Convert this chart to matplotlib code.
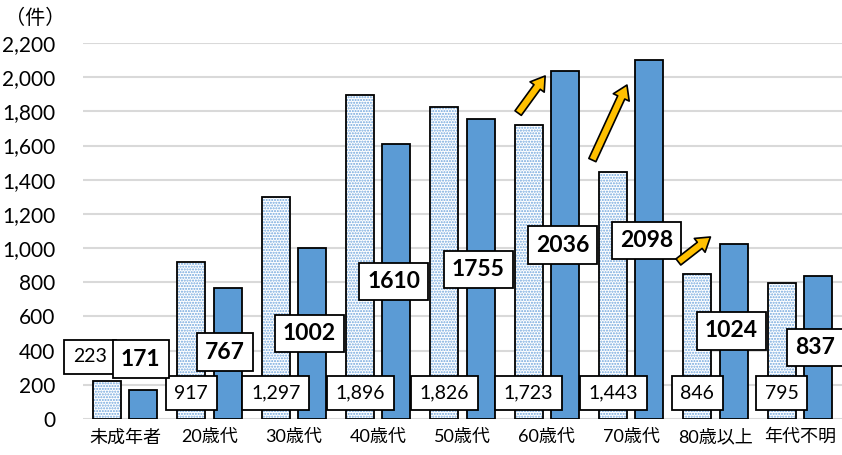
import matplotlib
matplotlib.use("Agg")
import matplotlib.pyplot as plt
import numpy as np

plt.rcParams["font.family"] = ["Lato", "Noto Sans CJK JP", "DejaVu Sans"]

categories = ["未成年者", "20歳代", "30歳代", "40歳代", "50歳代", "60歳代", "70歳代", "80歳以上", "年代不明"]
prev_counts = [223, 917, 1297, 1896, 1826, 1723, 1443, 846, 795]
curr_counts = [171, 767, 1002, 1610, 1755, 2036, 2098, 1024, 837]

# where the value boxes sit (y in data units)
prev_label_y = [363, 152, 152, 152, 152, 152, 152, 152, 152]
curr_label_y = [351, 392, 503, 807, 872, 1018, 1047, 515, 421]

fig = plt.figure(figsize=(8.42, 4.55), dpi=100)
ax = fig.add_axes([83 / 842, 36 / 455, 759 / 842, 376 / 455])

x = np.arange(len(categories))
w = 0.33
off = 0.215

# dotted bars: hatch first, black outline on top
ax.bar(x - off, prev_counts, w, color="white", edgecolor="#6FA5DC", hatch="......",
       linewidth=0, zorder=2)
ax.bar(x - off, prev_counts, w, color="none", edgecolor="black", linewidth=1.3, zorder=3)
ax.bar(x + off, curr_counts, w, color="#5B9BD5", edgecolor="black", linewidth=1.3, zorder=3)

box_light = dict(boxstyle="square,pad=0.45", fc="white", ec="black", lw=1.3)
box_bold = dict(boxstyle="square,pad=0.35", fc="white", ec="black", lw=1.3)
for i, (v, ly) in enumerate(zip(prev_counts, prev_label_y)):
    lx = i - off - (0.2 if i == 0 else 0)
    ax.text(lx, ly, f"{v:,}", ha="center", va="center", fontsize=14, bbox=box_light,
            zorder=5, clip_on=False)
for i, (v, ly) in enumerate(zip(curr_counts, curr_label_y)):
    ax.text(i + off - 0.03, ly, f"{v}", ha="center", va="center", fontsize=16.5,
            fontweight="bold", bbox=box_bold, zorder=5)

# increase arrows
arrows = [((4.66, 1790), (4.98, 2007)),
          ((5.54, 1515), (5.95, 1954)),
          ((6.56, 919), (6.94, 1065))]
for tail, tip in arrows:
    ax.annotate("", xy=tip, xytext=tail,
                arrowprops=dict(arrowstyle="simple,head_length=0.7,head_width=0.9,tail_width=0.4",
                                fc="#FFC000", ec="black", lw=1.2, mutation_scale=14,
                                shrinkA=0, shrinkB=0),
                zorder=6)

ax.set_xlim(-0.5, len(categories) - 0.5)
ax.set_ylim(0, 2200)
ax.set_yticks(range(0, 2201, 200))
ax.set_yticklabels([f"{t:,}" for t in range(0, 2201, 200)], fontsize=15)
ax.set_xticks(x)
ax.set_xticklabels(categories, fontsize=13)
ax.tick_params(length=0, pad=7)
ax.tick_params(axis="y", pad=20)
ax.yaxis.grid(True, color="#D9D9D9", linewidth=1.5, zorder=0)
ax.set_axisbelow(True)
for s in ax.spines.values():
    s.set_visible(False)

fig.text(5 / 842, 1 - 17 / 455, "（件）", fontsize=14.5, va="center", ha="left")

fig.savefig("out.png", dpi=100)
